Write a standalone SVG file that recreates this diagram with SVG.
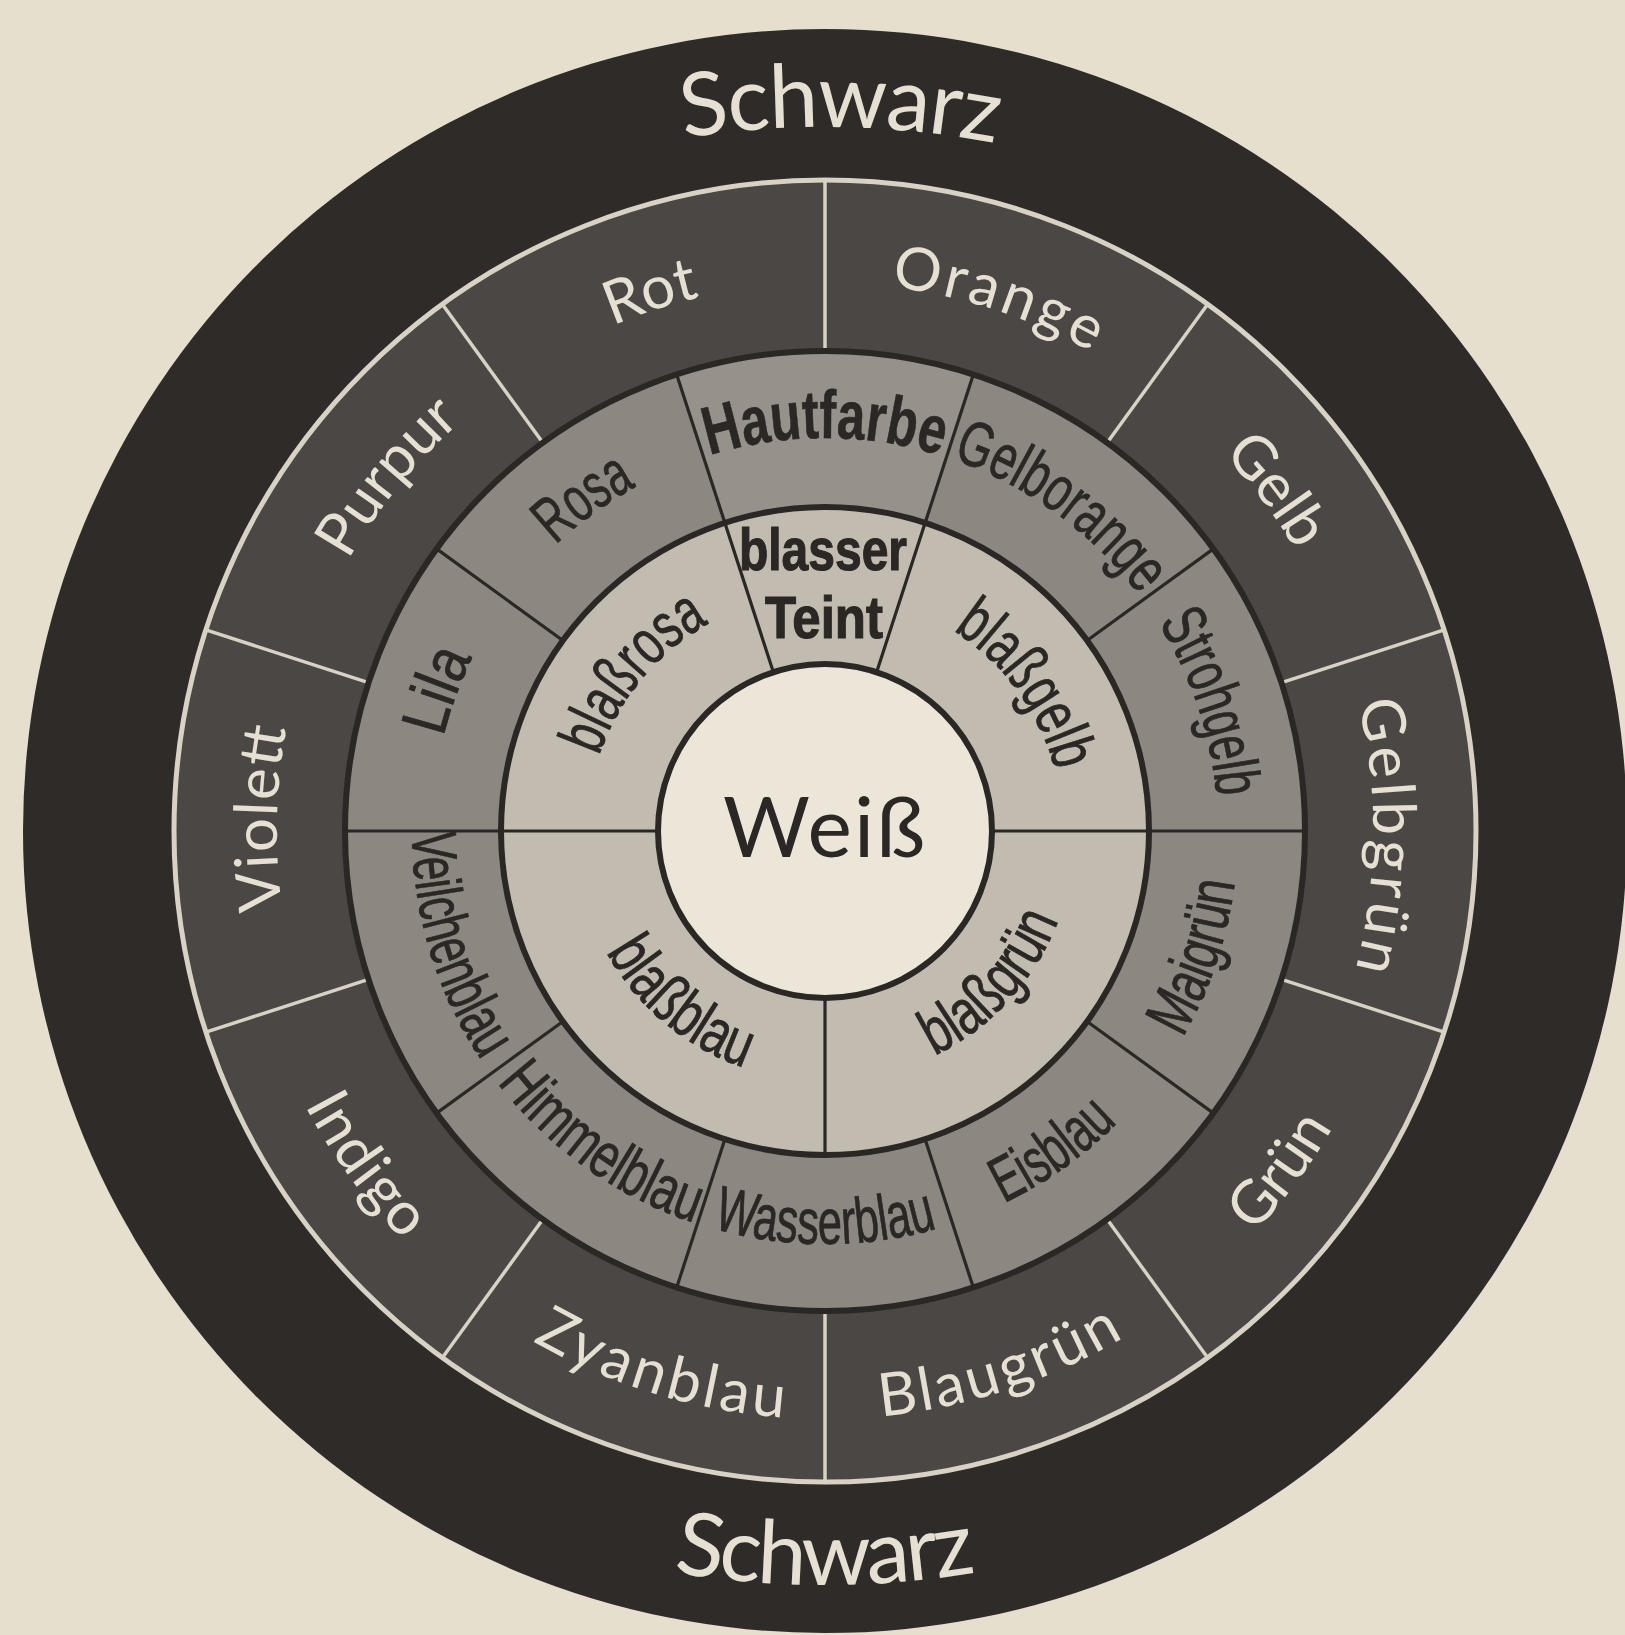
<svg xmlns="http://www.w3.org/2000/svg" width="1625" height="1635" viewBox="0 0 1625 1635">
<style>
.bg{fill:#e7dfce}
.black{fill:#2e2b29}
.outer{fill:#4a4744}
.mid{fill:#8c8781}
.inner{fill:#c2bcb0}
.white{fill:#ece6d9}
.ringd{fill:none;stroke:#2a2725;stroke-width:6}
.ringl{fill:none;stroke:#d8d2c4;stroke-width:5}
.ld{stroke:#2a2725;stroke-width:3.2;fill:none}
.ll{stroke:#d8d2c4;stroke-width:3.5;fill:none}
.lt{font-family:Lato,"Noto Sans",sans-serif;fill:#e6e0d2;font-size:60px}
.sw{font-size:88px}
.cd{font-family:"Liberation Sans Narrow","Liberation Sans",Arial,sans-serif;fill:#2a2725;font-size:64px;stroke:#2a2725;stroke-width:0.8}
.bd{font-weight:bold;font-size:68px;stroke-width:0.6}
.bt{font-weight:bold;font-size:60px;stroke-width:1.2}
.wt{font-family:Lato,"Noto Sans",sans-serif;fill:#2a2725;font-size:84px}
</style>
<defs>
<path id="cwtop" d="M825,1927 A900,900 0 1 1 825,127 A900,900 0 1 1 825,1927"/>
<path id="ccwbot" d="M825,-215 A900,900 0 1 0 825,1585 A900,900 0 1 0 825,-215"/>
<path id="cw548" d="M825,1379 A548,548 0 1 1 825,283 A548,548 0 1 1 825,1379"/>
<path id="ccw588" d="M825,243 A588,588 0 1 0 825,1419 A588,588 0 1 0 825,243"/>
<path id="cw393" d="M825,1224 A393,393 0 1 1 825,438 A393,393 0 1 1 825,1224"/>
<path id="ccw413" d="M825,418 A413,413 0 1 0 825,1244 A413,413 0 1 0 825,418"/>
<path id="cw238" d="M825,1069 A238,238 0 1 1 825,593 A238,238 0 1 1 825,1069"/>
<path id="ccw250" d="M825,581 A250,250 0 1 0 825,1081 A250,250 0 1 0 825,581"/>
</defs>
<rect class="bg" x="0" y="0" width="1625" height="1635"/>

<g id="schwarz">
<circle class="black" cx="825" cy="831" r="802"/>
<text class="lt sw"><textPath href="#cwtop" startOffset="50.27%" text-anchor="middle" textLength="314">Schwarz</textPath></text>
<text class="lt sw"><textPath href="#ccwbot" startOffset="50%" text-anchor="middle" textLength="305">Schwarz</textPath></text>
</g>

<g id="orange"><path class="outer" d="M825,180 A651,651 0 0 1 1207.65,304.33 L1107.14,442.67 A480,480 0 0 0 825,351 Z"/>
<text class="lt"><textPath href="#cw548" startOffset="55%" text-anchor="middle" textLength="212">Orange</textPath></text></g>
<g id="gelb"><path class="outer" d="M1207.65,304.33 A651,651 0 0 1 1444.14,629.83 L1281.51,682.67 A480,480 0 0 0 1107.14,442.67 Z"/>
<text class="lt"><textPath href="#cw548" startOffset="64.7%" text-anchor="middle" textLength="122">Gelb</textPath></text></g>
<g id="gelbgruen"><path class="outer" d="M1444.14,629.83 A651,651 0 0 1 1444.14,1032.17 L1281.51,979.33 A480,480 0 0 0 1281.51,682.67 Z"/>
<text class="lt"><textPath href="#cw548" startOffset="75.14%" text-anchor="middle" textLength="270">Gelbgrün</textPath></text></g>
<g id="gruen"><path class="outer" d="M1444.14,1032.17 A651,651 0 0 1 1207.65,1357.67 L1107.14,1219.33 A480,480 0 0 0 1281.51,979.33 Z"/>
<text class="lt"><textPath href="#ccw588" startOffset="64.8%" text-anchor="middle" textLength="132">Grün</textPath></text></g>
<g id="blaugruen"><path class="outer" d="M1207.65,1357.67 A651,651 0 0 1 825,1482 L825,1311 A480,480 0 0 0 1107.14,1219.33 Z"/>
<text class="lt"><textPath href="#ccw588" startOffset="55%" text-anchor="middle" textLength="258">Blaugrün</textPath></text></g>
<g id="zyanblau"><path class="outer" d="M825,1482 A651,651 0 0 1 442.35,1357.67 L542.86,1219.33 A480,480 0 0 0 825,1311 Z"/>
<text class="lt"><textPath href="#ccw588" startOffset="45.3%" text-anchor="middle" textLength="265">Zyanblau</textPath></text></g>
<g id="indigo"><path class="outer" d="M442.35,1357.67 A651,651 0 0 1 205.86,1032.17 L368.49,979.33 A480,480 0 0 0 542.86,1219.33 Z"/>
<text class="lt"><textPath href="#ccw588" startOffset="35%" text-anchor="middle" textLength="168">Indigo</textPath></text></g>
<g id="violett"><path class="outer" d="M205.86,1032.17 A651,651 0 0 1 205.86,629.83 L368.49,682.67 A480,480 0 0 0 368.49,979.33 Z"/>
<text class="lt"><textPath href="#cw548" startOffset="25.36%" text-anchor="middle" textLength="182">Violett</textPath></text></g>
<g id="purpur"><path class="outer" d="M205.86,629.83 A651,651 0 0 1 442.35,304.33 L542.86,442.67 A480,480 0 0 0 368.49,682.67 Z"/>
<text class="lt"><textPath href="#cw548" startOffset="35.83%" text-anchor="middle" textLength="180">Purpur</textPath></text></g>
<g id="rot"><path class="outer" d="M442.35,304.33 A651,651 0 0 1 825,180 L825,351 A480,480 0 0 0 542.86,442.67 Z"/>
<text class="lt"><textPath href="#cw548" startOffset="45%" text-anchor="middle" textLength="92">Rot</textPath></text></g>

<g id="hautfarbe"><path class="mid" style="fill:#96918a" d="M676.67,374.49 A480,480 0 0 1 973.33,374.49 L925.12,522.86 A324,324 0 0 0 724.88,522.86 Z"/>
<text class="cd bd"><textPath href="#cw393" startOffset="50%" text-anchor="middle" textLength="235" lengthAdjust="spacingAndGlyphs">Hautfarbe</textPath></text></g>
<g id="gelborange"><path class="mid" d="M973.33,374.49 A480,480 0 0 1 1213.33,548.86 L1087.12,640.56 A324,324 0 0 0 925.12,522.86 Z"/>
<text class="cd"><textPath href="#cw393" startOffset="60%" text-anchor="middle" textLength="235" lengthAdjust="spacingAndGlyphs">Gelborange</textPath></text></g>
<g id="strohgelb"><path class="mid" d="M1213.33,548.86 A480,480 0 0 1 1305,831 L1149,831 A324,324 0 0 0 1087.12,640.56 Z"/>
<text class="cd"><textPath href="#cw393" startOffset="69.86%" text-anchor="middle" textLength="185" lengthAdjust="spacingAndGlyphs">Strohgelb</textPath></text></g>
<g id="maigruen"><path class="mid" d="M1305,831 A480,480 0 0 1 1213.33,1113.14 L1087.12,1021.44 A324,324 0 0 0 1149,831 Z"/>
<text class="cd"><textPath href="#ccw413" startOffset="69.83%" text-anchor="middle" textLength="165" lengthAdjust="spacingAndGlyphs">Maigrün</textPath></text></g>
<g id="eisblau"><path class="mid" d="M1213.33,1113.14 A480,480 0 0 1 973.33,1287.51 L925.12,1139.14 A324,324 0 0 0 1087.12,1021.44 Z"/>
<text class="cd"><textPath href="#ccw413" startOffset="59.83%" text-anchor="middle" textLength="140" lengthAdjust="spacingAndGlyphs">Eisblau</textPath></text></g>
<g id="wasserblau"><path class="mid" d="M973.33,1287.51 A480,480 0 0 1 676.67,1287.51 L724.88,1139.14 A324,324 0 0 0 925.12,1139.14 Z"/>
<text class="cd"><textPath href="#ccw413" startOffset="50%" text-anchor="middle" textLength="228" lengthAdjust="spacingAndGlyphs">Wasserblau</textPath></text></g>
<g id="himmelblau"><path class="mid" d="M676.67,1287.51 A480,480 0 0 1 436.67,1113.14 L562.88,1021.44 A324,324 0 0 0 724.88,1139.14 Z"/>
<text class="cd"><textPath href="#ccw413" startOffset="40.14%" text-anchor="middle" textLength="245" lengthAdjust="spacingAndGlyphs">Himmelblau</textPath></text></g>
<g id="veilchenblau"><path class="mid" d="M436.67,1113.14 A480,480 0 0 1 345,831 L501,831 A324,324 0 0 0 562.88,1021.44 Z"/>
<text class="cd"><textPath href="#ccw413" startOffset="29.72%" text-anchor="middle" textLength="242" lengthAdjust="spacingAndGlyphs">Veilchenblau</textPath></text></g>
<g id="lila"><path class="mid" d="M345,831 A480,480 0 0 1 436.67,548.86 L562.88,640.56 A324,324 0 0 0 501,831 Z"/>
<text class="cd"><textPath href="#cw393" startOffset="30.56%" text-anchor="middle" textLength="85" lengthAdjust="spacingAndGlyphs">Lila</textPath></text></g>
<g id="rosa"><path class="mid" d="M436.67,548.86 A480,480 0 0 1 676.67,374.49 L724.88,522.86 A324,324 0 0 0 562.88,640.56 Z"/>
<text class="cd"><textPath href="#cw393" startOffset="40%" text-anchor="middle" textLength="100" lengthAdjust="spacingAndGlyphs">Rosa</textPath></text></g>

<g id="blasser-teint"><path class="inner" d="M724.88,522.86 A324,324 0 0 1 925.12,522.86 L876.61,672.17 A167,167 0 0 0 773.39,672.17 Z"/>
<text class="cd bt" text-anchor="middle"><tspan x="823" y="570" textLength="168" lengthAdjust="spacingAndGlyphs">blasser</tspan><tspan x="824" y="638" textLength="118" lengthAdjust="spacingAndGlyphs">Teint</tspan></text></g>
<g id="blassgelb"><path class="inner" d="M925.12,522.86 A324,324 0 0 1 1149,831 L992,831 A167,167 0 0 0 876.61,672.17 Z"/>
<text class="cd"><textPath href="#cw238" startOffset="65%" text-anchor="middle" textLength="178" lengthAdjust="spacingAndGlyphs">blaßgelb</textPath></text></g>
<g id="blassgruen"><path class="inner" d="M1149,831 A324,324 0 0 1 825,1155 L825,998 A167,167 0 0 0 992,831 Z"/>
<text class="cd"><textPath href="#ccw250" startOffset="63.2%" text-anchor="middle" textLength="188" lengthAdjust="spacingAndGlyphs">blaßgrün</textPath></text></g>
<g id="blassblau"><path class="inner" d="M825,1155 A324,324 0 0 1 501,831 L658,831 A167,167 0 0 0 825,998 Z"/>
<text class="cd"><textPath href="#ccw250" startOffset="38.9%" text-anchor="middle" textLength="184" lengthAdjust="spacingAndGlyphs">blaßblau</textPath></text></g>
<g id="blassrosa"><path class="inner" d="M501,831 A324,324 0 0 1 724.88,522.86 L773.39,672.17 A167,167 0 0 0 658,831 Z"/>
<text class="cd"><textPath href="#cw238" startOffset="36%" text-anchor="middle" textLength="176" lengthAdjust="spacingAndGlyphs">blaßrosa</textPath></text></g>

<g id="weiss"><circle class="white" cx="825" cy="831" r="167"/>
<text class="wt" x="824" y="857" text-anchor="middle" textLength="202">Weiß</text></g>

<g id="connectors">
<path class="ll" d="M825,351 L825,180 M1107.14,442.67 L1207.65,304.33 M1281.51,682.67 L1444.14,629.83 M1281.51,979.33 L1444.14,1032.17 M1107.14,1219.33 L1207.65,1357.67 M825,1311 L825,1482 M542.86,1219.33 L442.35,1357.67 M368.49,979.33 L205.86,1032.17 M368.49,682.67 L205.86,629.83 M542.86,442.67 L442.35,304.33"/>
<circle class="ringl" cx="825" cy="831" r="651"/>
<path class="ld" d="M876.61,672.17 L973.33,374.49 M773.39,672.17 L676.67,374.49 M992,831 L1305,831 M658,831 L345,831 M1087.12,640.56 L1213.33,548.86 M1087.12,1021.44 L1213.33,1113.14 M925.12,1139.14 L973.33,1287.51 M724.88,1139.14 L676.67,1287.51 M562.88,1021.44 L436.67,1113.14 M562.88,640.56 L436.67,548.86 M825,998 L825,1155"/>
<circle class="ringd" cx="825" cy="831" r="480"/>
<circle class="ringd" cx="825" cy="831" r="324"/>
<circle class="ringd" cx="825" cy="831" r="167"/>
</g>
</svg>
